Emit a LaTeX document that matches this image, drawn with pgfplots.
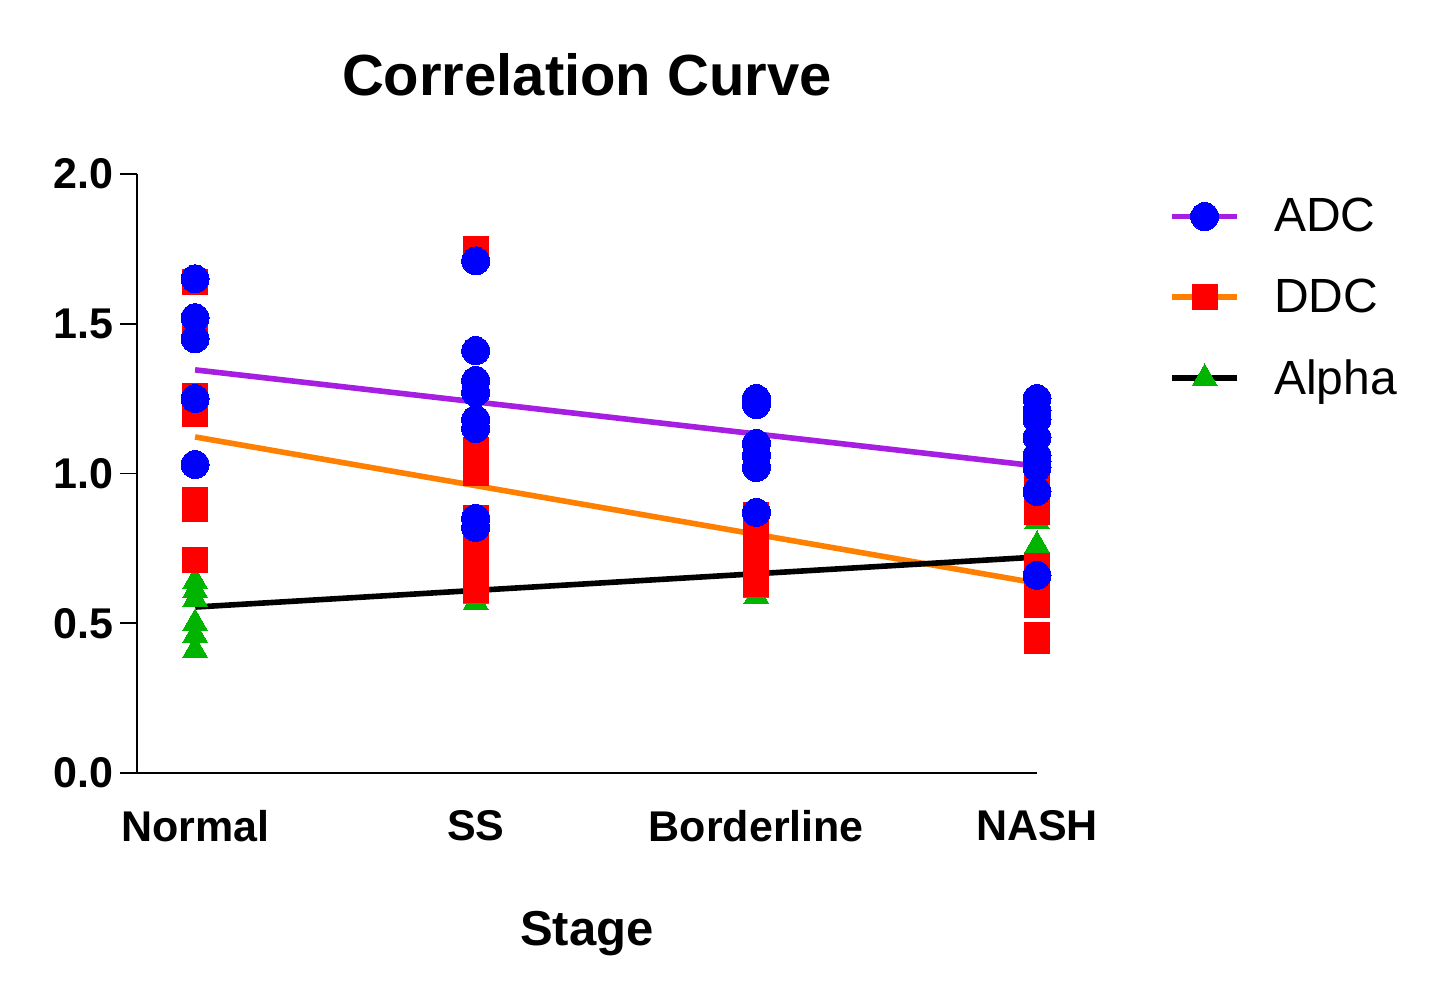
\documentclass[border=0pt]{standalone}
\usepackage{fontspec}
\setmainfont{Liberation Sans}
\usepackage{pgfplots}
\pgfplotsset{compat=1.18}

\definecolor{adcline}{RGB}{165,30,225}
\definecolor{ddcline}{RGB}{255,128,0}
\definecolor{mkblue}{RGB}{0,0,255}
\definecolor{mkred}{RGB}{255,0,0}
\definecolor{mkgreen}{RGB}{0,180,0}

\begin{document}
\begin{tikzpicture}
\useasboundingbox (-68.5pt,-113pt) rectangle (651.5pt,386.5pt);
\begin{axis}[
  scale only axis,
  width=450pt, height=299.5pt,
  at={(0,0)}, anchor=south west,
  clip=false,
  xmin=-0.207, xmax=3,
  ymin=0, ymax=2,
  axis x line*=bottom,
  axis y line*=left,
  axis line style={line width=0.8pt},
  xtick={0,1,2,3},
  xticklabels={Normal,SS,Borderline,NASH},
  x tick style={draw=none},
  ytick={0,0.5,1,1.5,2},
  y tick style={line width=0.8pt, black},
  tick align=outside,
  major tick length=8.5pt,
  /pgf/number format/assume math mode=true,
  /pgf/number format/.cd, fixed, fixed zerofill, precision=1, /pgfplots/.cd,
  ticklabel style={font=\bfseries\fontsize{21.5}{21.5}\selectfont},
  xticklabel style={yshift=-6.5pt},
  title={Correlation Curve},
  title style={at={(0.5,1)}, anchor=center, yshift=43.5pt,
    font=\bfseries\fontsize{29}{29}\selectfont},
  xlabel={Stage},
  xlabel style={at={(0.5,0)}, anchor=center, yshift=-80.5pt,
    font=\bfseries\fontsize{24.5}{24.5}\selectfont},
  legend image code/.code={
    \draw[mark repeat=2,mark phase=2,#1] plot coordinates {(0pt,0pt) (16.25pt,0pt) (32.5pt,0pt)};
  },
  legend style={draw=none, fill=none, at={(rel axis cs:1.14,0.98)}, anchor=north west,
    font=\fontsize{24}{24}\selectfont, row sep=14pt,
    nodes={inner sep=4pt},
    /tikz/every odd column/.append style={column sep=13pt}},
  legend cell align=left,
]
% regression lines
\addplot[adcline, line width=2.8pt, forget plot] coordinates {(0,1.346) (3,1.025)};
\addplot[ddcline, line width=2.8pt, forget plot] coordinates {(0,1.122) (3,0.634)};
\addplot[black, line width=2.8pt, forget plot] coordinates {(0,0.554) (3,0.721)};

% Alpha
\addplot[only marks, mark=triangle*, mark size=7.2pt, mark options={fill=mkgreen, draw=mkgreen, line width=0pt}, forget plot] coordinates {
 (0,0.64) (0,0.61) (0,0.58) (0,0.50) (0,0.46) (0,0.41)
 (1,0.59) (1,0.57)
 (2,0.61) (2,0.59)
 (3,0.84) (3,0.76)
};
% DDC
\addplot[only marks, mark=square*, mark size=6.25pt, mark options={fill=mkred, draw=mkred, line width=0pt}, forget plot] coordinates {
 (0,1.64) (0,1.48) (0,1.26) (0,1.20) (0,0.91) (0,0.88) (0,0.71)
 (1,1.75) (1,1.08) (1,1.04) (1,1.00) (1,0.85) (1,0.76) (1,0.68) (1,0.61)
 (2,0.86) (2,0.80) (2,0.75) (2,0.70) (2,0.66) (2,0.63)
 (3,0.97) (3,0.92) (3,0.87) (3,0.69) (3,0.63) (3,0.56) (3,0.46) (3,0.44)
};
% ADC
\addplot[only marks, mark=*, mark size=7pt, mark options={fill=mkblue, draw=mkblue, line width=0pt}, forget plot] coordinates {
 (0,1.65) (0,1.52) (0,1.45) (0,1.25) (0,1.03)
 (1,1.71) (1,1.41) (1,1.31) (1,1.27) (1,1.18) (1,1.15) (1,0.85) (1,0.82)
 (2,1.25) (2,1.23) (2,1.10) (2,1.06) (2,1.02) (2,0.87)
 (3,1.25) (3,1.21) (3,1.18) (3,1.12) (3,1.06) (3,1.04) (3,1.02) (3,0.94) (3,0.66)
};

\addlegendimage{adcline, line width=2.8pt, mark=*, mark size=7pt, mark options={fill=mkblue, draw=mkblue, line width=0pt}}
\addlegendentry{ADC}
\addlegendimage{ddcline, line width=2.8pt, mark=square*, mark size=6.25pt, mark options={fill=mkred, draw=mkred, line width=0pt}}
\addlegendentry{DDC}
\addlegendimage{black, line width=2.8pt, mark=triangle*, mark size=7.2pt, mark options={fill=mkgreen, draw=mkgreen, line width=0pt}}
\addlegendentry{Alpha}
\end{axis}
\end{tikzpicture}
\end{document}
